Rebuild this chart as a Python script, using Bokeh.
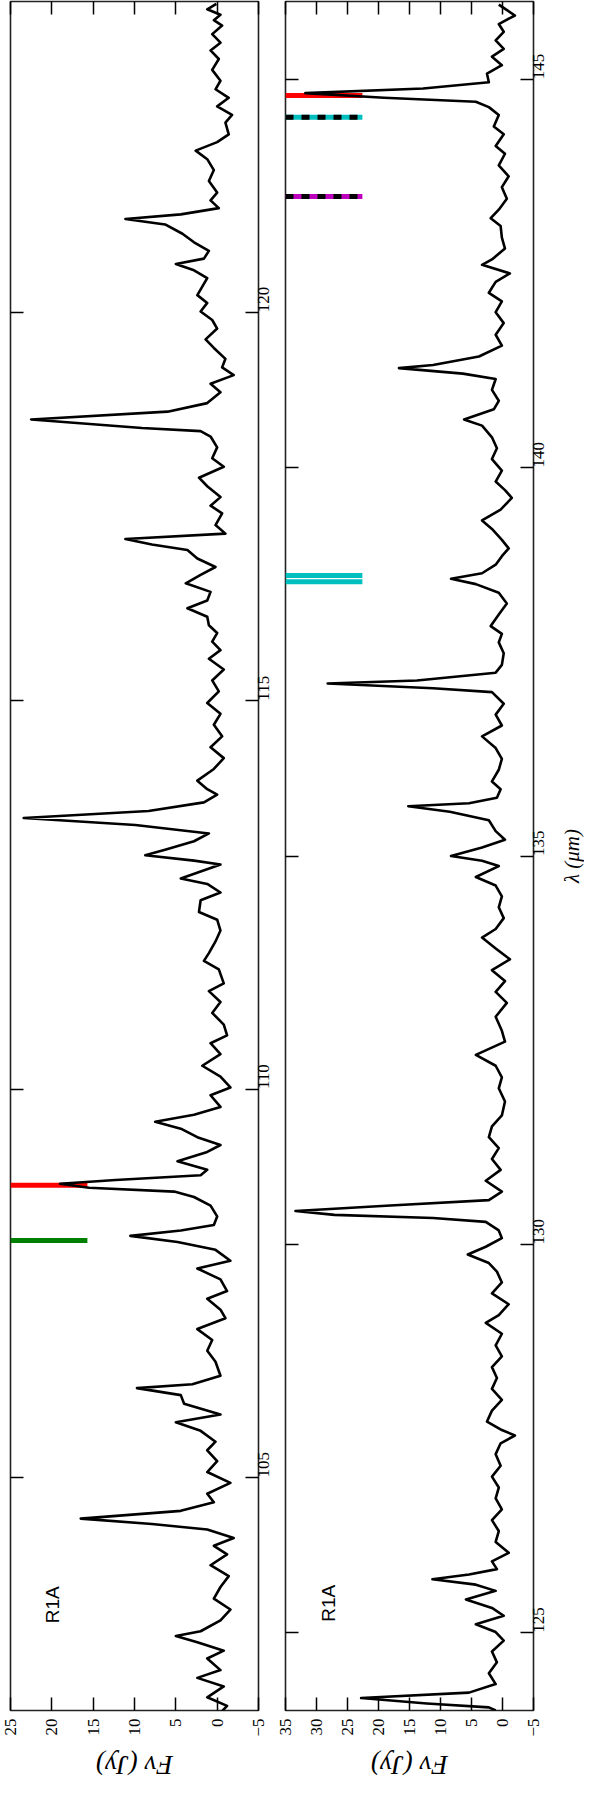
import math
from bokeh.plotting import figure
from bokeh.layouts import row, column
from bokeh.models import LinearAxis, FixedTicker, Range1d, Label
from bokeh.embed import file_html
from bokeh.resources import INLINE

# ---------------- data ----------------
# panel 1 : wavelength (micron) and flux density (Jy)
lam1 = [123.97, 123.90, 123.83, 123.76, 123.69, 123.58, 123.47, 123.37, 123.26, 123.12,
        122.98, 122.87, 122.76, 122.65, 122.54, 122.44, 122.29, 122.19, 122.08, 121.97,
        121.83, 121.69, 121.54, 121.44, 121.34, 121.26, 121.20, 121.13, 121.01, 120.90,
        120.79, 120.69, 120.62, 120.54, 120.44, 120.33, 120.22, 120.12, 120.01, 119.90,
        119.79, 119.65, 119.54, 119.40, 119.29, 119.19, 119.08, 118.97, 118.83, 118.72,
        118.62, 118.51, 118.47, 118.40, 118.26, 118.12, 118.01, 117.87, 117.76, 117.62,
        117.51, 117.41, 117.26, 117.15, 117.08, 117.01, 116.94, 116.83, 116.72, 116.62,
        116.51, 116.40, 116.29, 116.19, 116.08, 115.97, 115.87, 115.76, 115.65, 115.54,
        115.40, 115.26, 115.12, 114.97, 114.83, 114.69, 114.54, 114.40, 114.26, 114.12,
        113.97, 113.86, 113.79, 113.69, 113.58, 113.49, 113.40, 113.29, 113.19, 113.08,
        113.01, 112.94, 112.89, 112.71, 112.64, 112.53, 112.43, 112.28, 112.18, 112.04,
        111.90, 111.75, 111.65, 111.54, 111.36, 111.26, 111.12, 110.98, 110.83, 110.69,
        110.59, 110.45, 110.30, 110.16, 110.02, 109.92, 109.77, 109.67, 109.58, 109.49,
        109.38, 109.28, 109.19, 109.07, 108.96, 108.89, 108.83, 108.78, 108.73, 108.68,
        108.61, 108.50, 108.36, 108.25, 108.18, 108.11, 108.03, 107.93, 107.79, 107.69,
        107.55, 107.40, 107.30, 107.16, 107.05, 106.91, 106.77, 106.63, 106.49, 106.31,
        106.20, 106.15, 106.06, 105.95, 105.81, 105.71, 105.60, 105.46, 105.35, 105.21,
        105.07, 104.93, 104.79, 104.68, 104.57, 104.47, 104.40, 104.33, 104.22, 104.12,
        104.01, 103.87, 103.73, 103.59, 103.44, 103.30, 103.16, 103.02, 102.96, 102.88,
        102.77, 102.67, 102.52, 102.42, 102.31, 102.17, 102.06, 101.97]
flux1 = [0.1, 1.2, -0.4, 0.4, -0.6, 0.6, -0.4, 0.8, -0.2, 0.6,
         -0.4, 0.2, -1.4, 0.0, -1.8, -1.0, -1.4, 0.0, 2.6, 1.2,
         0.4, 1.0, 0.0, 0.8, -0.2, 4.4, 11.1, 6.3, 4.2, 2.8,
         1.0, 1.6, 5.0, 2.8, 1.2, 1.8, 2.4, 1.2, 2.0, 0.6,
         0.0, 1.4, 0.4, -1.0, -0.6, -2.0, 0.8, -0.4, 1.2, 6.0,
         22.5, 9.1, 2.0, 0.8, 0.0, 0.6, -0.8, 2.2, 1.2, -0.4,
         0.8, -0.6, 0.2, -1.0, 11.1, 7.9, 3.6, 2.4, 0.2, 2.0,
         3.8, 0.8, 1.2, 3.6, 1.2, 1.0, 0.0, 0.6, -0.4, 1.0,
         -0.8, 0.6, -0.2, 1.2, -0.4, 0.4, -0.6, 0.8, -0.8, 0.4,
         2.4, 1.2, 0.0, 1.6, 8.3, 23.4, 9.9, 1.0, 2.8, 6.3,
         8.7, 2.8, -0.4, 4.4, 1.2, -0.4, 2.0, 2.2, 0.0, -0.4,
         0.2, 1.0, 1.6, -0.2, -0.8, 1.0, -0.4, 0.6, -0.8, -1.2,
         0.8, -0.4, 1.8, -0.4, -1.6, 0.8, -0.4, 2.8, 7.5, 4.4,
         2.4, -0.4, 1.2, 4.8, 1.2, 2.0, 12.3, 19.0, 15.5, 5.2,
         2.8, 0.8, 0.0, 0.4, 4.4, 10.5, 4.8, 0.2, -1.6, 2.4,
         -0.4, -1.2, 1.2, -0.4, -1.0, 2.4, 0.6, 1.2, 0.2, -0.4,
         3.0, 9.7, 4.4, 4.0, -0.4, 5.0, 2.0, 0.2, 1.2, 0.0,
         1.2, -1.6, 1.2, 0.4, 4.4, 16.5, 7.9, 1.2, -2.0, 0.4,
         -1.2, 0.8, -1.4, -0.4, 0.4, -1.6, -0.4, 2.0, 5.0, 2.4,
         -0.8, 1.2, -0.4, 2.4, -0.8, 1.2, -1.2, -0.4]

# panel 2
lam2 = [145.96, 145.82, 145.71, 145.61, 145.50, 145.39, 145.29, 145.18, 145.07, 144.96,
        144.88, 144.82, 144.76, 144.71, 144.64, 144.54, 144.39, 144.29, 144.14, 144.04,
        143.89, 143.75, 143.61, 143.46, 143.32, 143.21, 143.11, 142.96, 142.82, 142.68,
        142.61, 142.50, 142.39, 142.25, 142.14, 142.00, 141.86, 141.71, 141.57, 141.43,
        141.32, 141.28, 141.21, 141.14, 141.00, 140.86, 140.75, 140.62, 140.54, 140.39,
        140.25, 140.11, 139.96, 139.82, 139.71, 139.61, 139.46, 139.32, 139.21, 139.07,
        138.96, 138.86, 138.75, 138.64, 138.57, 138.50, 138.39, 138.25, 138.11, 137.96,
        137.86, 137.75, 137.61, 137.46, 137.36, 137.26, 137.22, 137.16, 137.11, 136.96,
        136.82, 136.68, 136.54, 136.39, 136.25, 136.11, 135.96, 135.86, 135.75, 135.68,
        135.64, 135.57, 135.46, 135.32, 135.21, 135.11, 135.00, 134.94, 134.87, 134.73,
        134.62, 134.48, 134.34, 134.20, 134.06, 133.95, 133.81, 133.67, 133.53, 133.39,
        133.25, 133.11, 132.93, 132.75, 132.61, 132.44, 132.30, 132.15, 132.01, 131.84,
        131.66, 131.52, 131.38, 131.24, 131.10, 130.96, 130.82, 130.68, 130.57, 130.50,
        130.43, 130.38, 130.34, 130.29, 130.18, 130.08, 129.97, 129.87, 129.76, 129.65,
        129.51, 129.37, 129.23, 129.09, 128.99, 128.85, 128.70, 128.56, 128.42, 128.28,
        128.14, 128.00, 127.86, 127.72, 127.61, 127.54, 127.44, 127.30, 127.15, 127.01,
        126.87, 126.73, 126.59, 126.45, 126.31, 126.17, 126.03, 125.92, 125.82, 125.75,
        125.69, 125.62, 125.54, 125.43, 125.32, 125.22, 125.11, 125.01, 124.90, 124.76,
        124.62, 124.48, 124.34, 124.23, 124.16, 124.09, 124.04, 124.00]
flux2 = [0.6, -2.0, 0.6, -0.2, 1.1, -0.2, 1.7, 0.1, 2.5, 2.2,
         12.8, 31.8, 19.1, 4.3, 2.2, 0.6, 1.4, -0.2, 1.1, -0.4,
         0.6, -1.0, 0.1, -0.7, 0.6, 1.9, 0.3, 0.1, -0.4, 1.7,
         3.3, -1.2, 1.1, 2.2, 0.1, 1.1, -0.2, 1.1, 0.1, 3.8,
         11.2, 16.7, 6.4, 1.1, 1.7, 0.6, 1.4, 6.2, 3.3, 1.7,
         0.9, 1.7, 0.1, 1.1, -0.4, -1.5, 0.3, 3.3, 1.7, 0.1,
         -1.0, 0.1, 1.1, 3.3, 8.3, 4.3, 0.6, -0.7, 0.6, 1.9,
         0.1, 0.6, -0.2, 0.1, 1.1, 13.8, 28.2, 11.2, 1.7, -0.2,
         1.1, 0.1, 3.3, 1.1, 0.1, 0.6, 1.7, 0.3, 0.9, 5.4,
         15.2, 8.5, 2.2, 1.1, -0.4, 3.3, 8.3, 3.3, 0.6, 4.3,
         1.1, 0.1, 0.6, -0.2, 1.1, 3.3, 1.1, -1.2, 1.7, -0.4,
         1.1, -0.7, 1.1, 0.1, -0.4, 4.3, 1.1, 0.1, 0.6, -0.4,
         0.1, 1.7, 2.2, 0.6, 1.7, 0.3, 2.7, 0.1, 2.2, 18.1,
         33.4, 27.1, 11.2, 2.7, 0.6, 0.1, 2.7, 5.6, 2.2, 0.9,
         0.1, 1.7, -1.0, 0.6, 2.7, 0.1, 1.1, 0.1, 1.7, 0.9,
         1.7, 0.1, 1.7, 2.5, 0.1, -2.0, 0.3, 1.1, 0.3, 1.7,
         0.6, 1.1, 0.1, 1.7, 0.6, 1.1, -1.0, 1.7, 0.9, 5.4,
         11.3, 4.3, 1.1, 5.9, 1.7, -0.2, 4.3, 1.1, -0.2, 1.7,
         0.9, 2.2, 1.1, 5.4, 22.8, 12.2, 2.2, 1.1]

# axis ranges and ticks
flux_range1 = (25, -5)
flux_range2 = (35, -5)
lam_range1 = (102, 124)
lam_range2 = (124, 146)
flux_ticks1 = [-5, 0, 5, 10, 15, 20, 25]
flux_ticks2 = [-5, 0, 5, 10, 15, 20, 25, 30, 35]
lam_ticks1 = [105, 110, 115, 120]
lam_ticks2 = [125, 130, 135, 140, 145]

# line-identification markers (wavelength, flux where bar ends, colour)
mark1_lam = [108.76, 108.05]
mark1_end = [15.7, 15.7]
mark1_col = ["#ff0000", "#008000"]
mark2_solid_lam = [144.79, 138.61, 138.53]
mark2_solid_end = [22.6, 22.6, 22.6]
mark2_solid_col = ["#ff0000", "#00bfbf", "#00bfbf"]
mark2_dash_lam = [144.51, 143.49]
mark2_dash_end = [22.6, 22.6]
mark2_dash_col = ["#00bfbf", "#bf00bf"]

SERIF = "Liberation Serif"
SANS = "Liberation Sans"
FRAME_W = 248
FRAME_H = 1709
TOP_B = 1
BOT_B = 32
P1_L, P1_R = 10, 27
P2_L, P2_R = 12, 25
OVERLAP = 12          # panel 2 slides under panel 1's right margin


def style_axis(ax, show_labels, standoff=6):
    ax.axis_line_color = None
    ax.major_tick_in = 13
    ax.major_tick_out = 0
    ax.major_tick_line_color = "black"
    ax.major_tick_line_width = 1.5
    ax.minor_tick_line_color = None
    if show_labels:
        ax.major_label_orientation = math.pi / 2
        ax.major_label_text_font = SERIF
        ax.major_label_text_font_size = "17px"
        ax.major_label_text_color = "black"
        ax.major_label_standoff = standoff
        ax.major_label_overrides = {-5: "\u22125"}
    else:
        ax.major_label_text_color = None
        ax.major_label_text_font_size = "0px"
        ax.major_label_standoff = 0


def make_panel(xr, yr, fticks, wticks, left_b, right_b):
    p = figure(frame_width=FRAME_W, frame_height=FRAME_H,
               x_range=Range1d(*xr), y_range=Range1d(*yr),
               output_backend="svg", toolbar_location=None,
               x_axis_location=None, y_axis_location=None,
               min_border_left=left_b, min_border_right=right_b,
               min_border_top=TOP_B, min_border_bottom=BOT_B)
    p.grid.visible = False
    p.outline_line_color = "#222222"
    p.outline_line_width = 1.6
    p.background_fill_color = "white"
    p.border_fill_color = "white"

    bx = LinearAxis(ticker=FixedTicker(ticks=fticks))
    style_axis(bx, True, standoff=8)
    p.add_layout(bx, "below")
    ax = LinearAxis(ticker=FixedTicker(ticks=fticks))
    style_axis(ax, False)
    p.add_layout(ax, "above")
    ly = LinearAxis(ticker=FixedTicker(ticks=wticks))
    style_axis(ly, False)
    p.add_layout(ly, "left")
    ry = LinearAxis(ticker=FixedTicker(ticks=wticks))
    style_axis(ry, True, standoff=5)
    p.add_layout(ry, "right")
    return p


def blank(width, height, xr, yr, left_b=0, right_b=0, top_b=0, bot_b=0):
    f = figure(frame_width=width, frame_height=height,
               x_range=Range1d(*xr), y_range=Range1d(*yr),
               output_backend="svg", toolbar_location=None,
               x_axis_location=None, y_axis_location=None,
               min_border_left=left_b, min_border_right=right_b,
               min_border_top=top_b, min_border_bottom=bot_b)
    f.grid.visible = False
    f.outline_line_color = None
    f.background_fill_color = "white"
    f.border_fill_color = "white"
    return f


p1 = make_panel(flux_range1, lam_range1, flux_ticks1, lam_ticks1, P1_L, P1_R)
p2 = make_panel(flux_range2, lam_range2, flux_ticks2, lam_ticks2, P2_L, P2_R)
p2.border_fill_alpha = 0
p2.margin = (0, 0, 0, -OVERLAP)

# markers (drawn first, spectrum on top)
p1.segment(x0=[flux_range1[0]] * len(mark1_lam), y0=mark1_lam, x1=mark1_end, y1=mark1_lam,
           line_color=mark1_col, line_width=5)
p2.segment(x0=[flux_range2[0]] * len(mark2_solid_lam), y0=mark2_solid_lam,
           x1=mark2_solid_end, y1=mark2_solid_lam, line_color=mark2_solid_col, line_width=5)
p2.segment(x0=[flux_range2[0]] * len(mark2_dash_lam), y0=mark2_dash_lam,
           x1=mark2_dash_end, y1=mark2_dash_lam, line_color=mark2_dash_col, line_width=5)
p2.segment(x0=[flux_range2[0]] * len(mark2_dash_lam), y0=mark2_dash_lam,
           x1=mark2_dash_end, y1=mark2_dash_lam, line_color="black", line_width=5,
           line_dash="8 8")

# spectra
p1.line(flux1, lam1, line_color="black", line_width=2.6, line_join="round")
p2.line(flux2, lam2, line_color="black", line_width=2.6, line_join="round")

# "R1A" tags inside the panels
p1.add_layout(Label(x=19.9, y=103.36, text="R1A", angle=math.pi / 2,
                    text_align="center", text_baseline="middle",
                    text_font=SANS, text_font_size="19px", text_color="black"))
p2.add_layout(Label(x=28.1, y=125.38, text="R1A", angle=math.pi / 2,
                    text_align="center", text_baseline="middle",
                    text_font=SANS, text_font_size="19px", text_color="black"))

# wavelength axis title (own strip to the right of panel 2)
lam_strip = blank(26, FRAME_H, (0, 1), lam_range2, top_b=TOP_B, bot_b=BOT_B)
lam_strip.add_layout(Label(x=0.5, y=135.0, text="\u03bb (\u03bcm)", angle=math.pi / 2,
                           text_align="center", text_baseline="middle",
                           text_font=SERIF, text_font_style="italic",
                           text_font_size="21px", text_color="black"))

# flux axis titles (strips below each panel, sharing the panel's flux scale);
# the rotated page turns them upside down
f1 = blank(FRAME_W, 44, flux_range1, (0, 1), left_b=P1_L, right_b=P1_R)
f1.add_layout(Label(x=10.0, y=0.5, text="F\u03bd (Jy)", angle=math.pi,
                    text_align="center", text_baseline="middle",
                    text_font=SERIF, text_font_style="italic",
                    text_font_size="27px", text_color="black"))
f2 = blank(FRAME_W, 44, flux_range2, (0, 1), left_b=P2_L, right_b=P2_R)
f2.border_fill_alpha = 0
f2.margin = (0, 0, 0, -OVERLAP)
f2.add_layout(Label(x=15.0, y=0.5, text="F\u03bd (Jy)", angle=math.pi,
                    text_align="center", text_baseline="middle",
                    text_font=SERIF, text_font_style="italic",
                    text_font_size="27px", text_color="black"))

layout = column(row(p1, p2, lam_strip), row(f1, f2))
open("out.html", "w").write(file_html(layout, INLINE))
